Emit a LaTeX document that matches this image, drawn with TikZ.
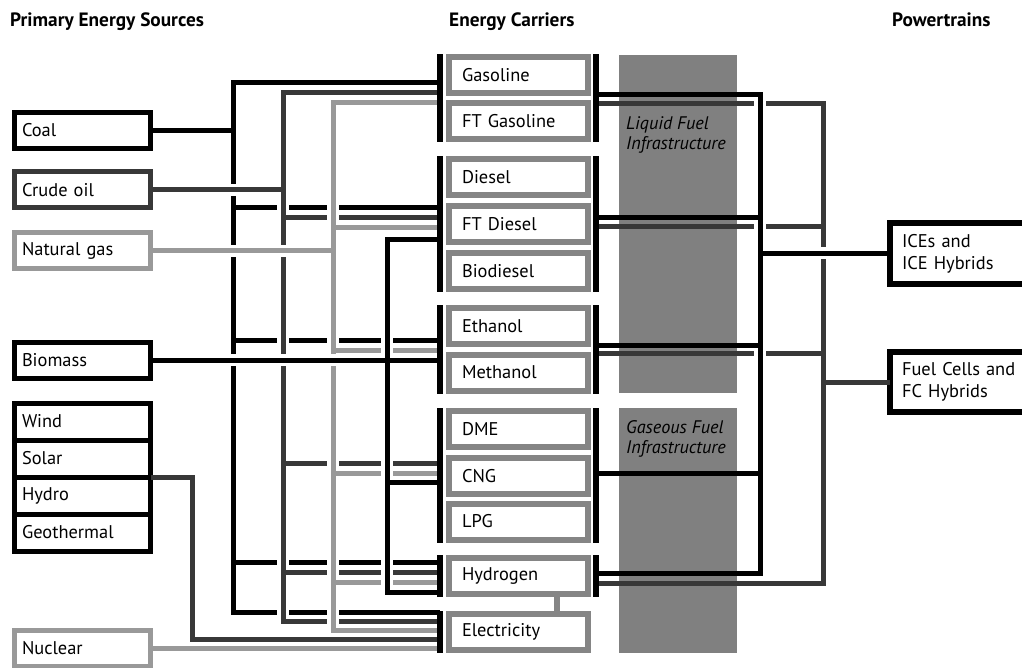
\documentclass[tikz,border=0pt]{standalone}
\usepackage{fontspec}
\setmainfont{PT Sans}
\usepackage{tikz}
\definecolor{darkline}{gray}{0.22}
\definecolor{lightline}{gray}{0.6}
\definecolor{boxgray}{gray}{0.52}
\definecolor{infragray}{gray}{0.5}
\tikzset{
  head/.style={font=\bfseries\fontsize{19.3}{22}\selectfont, inner sep=0pt, anchor=base west},
  src/.style={draw, line width=5pt, outer sep=0pt, text width=121pt, inner xsep=7.5pt,
    minimum height=36pt, align=left, font=\fontsize{18.4}{21}\selectfont},
  carrier/.style={draw=boxgray, line width=6pt, outer sep=0pt, text width=113pt, inner xsep=13pt,
    minimum height=36pt, align=left, font=\fontsize{18.4}{21}\selectfont},
  power/.style={draw, line width=6pt, outer sep=0pt, text width=116pt, inner xsep=12pt,
    minimum height=60pt, align=left, font=\fontsize{18.4}{22}\selectfont},
  infra/.style={anchor=north west, inner sep=0pt, align=left, font=\itshape\fontsize{18.2}{20.5}\selectfont},
  coalln/.style={line width=5pt, black},
  oilln/.style={line width=5pt, darkline},
  gasln/.style={line width=5pt, lightline},
  cut/.style={preaction={draw=white, line width=12pt, shorten <=4pt, shorten >=4pt}},
  busbar/.style={line width=6pt, black, line cap=rect},
}

\begin{document}
\begin{tikzpicture}[x=1pt, y=-1pt]
    \useasboundingbox (0,0) rectangle (1022,668);
    % Bus and trunk positions
    \coordinate (LB) at (440,0);
    \coordinate (RB) at (596,0);
    \coordinate (tR) at (192,0);
    \coordinate (tA) at (233,0);
    \coordinate (tB) at (283,0);
    \coordinate (tC) at (333,0);
    \coordinate (tD) at (387,0);
    \coordinate (tI) at (760,0);
    \coordinate (tF) at (823,0);
    % Column headers
    \node[head] (hsrc) at (10,27) {Primary Energy Sources};
    \node[head] (hcar) at (449,27) {Energy Carriers};
    \node[head] (hpow) at (892,27) {Powertrains};
    % Infrastructure bands
    \fill[infragray] (619,55) rectangle (737,393);
    \fill[infragray] (619,408) rectangle (737,653);
    \node[infra] (liquid) at (626,116) {Liquid Fuel\\Infrastructure};
    \node[infra] (gaseous) at (626,420) {Gaseous Fuel\\Infrastructure};
    % Primary sources
    \node[src] (coal) at (82.5,130.5) {Coal};
    \node[src, draw=darkline] (crude) at (82.5,190) {Crude oil};
    \node[src, draw=lightline] (natgas) at (82.5,251) {Natural gas};
    \node[src] (biomass) at (82.5,360) {Biomass};
    \node[src, minimum height=37pt] (wind) at (82.5,421.5) {Wind};
    \node[src, minimum height=37pt] (solar) at (82.5,458.5) {Solar};
    \node[src, minimum height=37pt] (hydro) at (82.5,495.5) {Hydro};
    \node[src, minimum height=37pt] (geo) at (82.5,532.5) {Geothermal};
    \node[src, draw=lightline] (nuclear) at (82.5,648) {Nuclear};
    % Energy carriers
    \foreach \n/\t/\y in {gasoline/Gasoline/75, ftgasoline/FT Gasoline/121.5,
        diesel/Diesel/177.5, ftdiesel/FT Diesel/224, biodiesel/Biodiesel/271,
        ethanol/Ethanol/326, methanol/Methanol/372.5, dme/DME/429, cng/CNG/476,
        lpg/LPG/521.5, hydrogen/Hydrogen/576, electricity/Electricity/632}
      \node[carrier] (\n) at (518.5,\y) {\t};
    % Powertrains
    \node[power] (ice) at (960,253.5) {ICEs and\\ICE Hybrids};
    \node[power] (fc) at (960,382) {Fuel Cells and\\FC Hybrids};

    % Coal trunk
    \draw[coalln, cut] (LB |- 0,83) -| (tA |- 0,612) -- (LB |- 0,612)
      foreach \y in {208,340,562} {(tA |- 0,\y) -- (LB |- 0,\y)};
    % Crude oil trunk
    \draw[oilln, cut] (LB |- 0,93) -| (tB |- 0,621) -- (LB |- 0,621)
      foreach \y in {218,463,572} {(tB |- 0,\y) -- (LB |- 0,\y)};
    % Natural gas trunk
    \draw[gasln, cut] (LB |- 0,103) -| (tC |- 0,630) -- (LB |- 0,630)
      foreach \y in {228,350,473,582} {(tC |- 0,\y) -- (LB |- 0,\y)};
    % Biomass trunk
    \draw[coalln, cut] (LB |- 0,240) -| (tD |- 0,592) -- (LB |- 0,592)
      (tD |- 0,482) -- (LB |- 0,482);
    % Source feeds
    \draw[coalln] (coal.east) -- (coal.east -| tA);
    \draw[oilln, cut] (crude.east) -- (crude.east -| tB);
    \draw[gasln, cut] (natgas.east) -- (natgas.east -| tC);
    \draw[coalln, cut] (biomass.east) -- (biomass.east -| tD);
    \draw[coalln] (biomass.east -| tD) -- (biomass.east -| LB);
    \draw[oilln] (hydro.north east) -| (tR |- 0,639) -- (LB |- 0,639);
    \draw[gasln] (nuclear.east) -- (nuclear.east -| LB);

    % Fuel cell trunk
    \draw[oilln] (RB |- 0,104) -| (tF |- 0,583) -- (RB |- 0,583)
      foreach \y in {227,353} {(RB |- 0,\y) -- (tF |- 0,\y)}
      (fc.west) -- (fc.west -| tF);
    % ICE trunk
    \draw[coalln, cut, line cap=rect] (tI |- 0,95) -- (tI |- 0,573);
    \draw[coalln, cut] (ice.west) -- (ice.west -| tI);
    \draw[coalln] foreach \y in {95,218,345,473,573} {(RB |- 0,\y) -- (tI |- 0,\y)};

    % Bus bars
    \foreach \t/\b in {gasoline/ftgasoline, diesel/biodiesel, ethanol/methanol,
        dme/lpg, hydrogen/hydrogen} {
      \draw[busbar] (\t.north -| LB) -- (\b.south -| LB);
      \draw[busbar] (\t.north -| RB) -- (\b.south -| RB);
    }
    \draw[busbar] (electricity.north -| LB) -- (electricity.south -| LB);
    % Hydrogen from electricity
    \draw[line width=6pt, boxgray] ([xshift=38.5pt]hydrogen.south) -- ([xshift=38.5pt]electricity.north);
\end{tikzpicture}
\end{document}
